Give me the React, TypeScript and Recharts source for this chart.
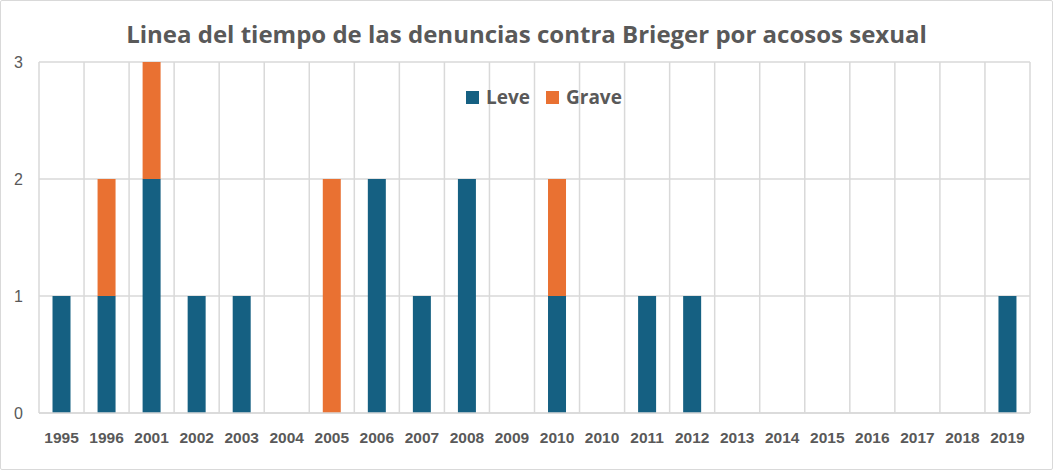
import React from "react";
import { BarChart, Bar, XAxis, YAxis, CartesianGrid, Legend } from "recharts";

const years = ["1995","1996","2001","2002","2003","2004","2005","2006","2007","2008","2009","2010","2010","2011","2012","2013","2014","2015","2016","2017","2018","2019"];
const leve = [1,1,2,1,1,0,0,2,1,2,0,1,0,1,1,0,0,0,0,0,0,1];
const grave = [0,1,1,0,0,0,2,0,0,0,0,1,0,0,0,0,0,0,0,0,0,0];
const yTicks = [0,1,2,3];
const seriesOrder = ["Leve", "Grave"];

const data = years.map((y, i) => ({ idx: i, year: y, Leve: leve[i], Grave: grave[i] }));

const W = 1053;
const H = 470;

const renderLegend = (props: any) => {
  const payload = [...(props.payload || [])].sort(
    (a: any, b: any) => seriesOrder.indexOf(a.value) - seriesOrder.indexOf(b.value)
  );
  return (
    <div style={{ display: "flex", alignItems: "center" }}>
      {payload.map((p: any) => (
        <div key={p.value} style={{ display: "flex", alignItems: "center", marginRight: 16 }}>
          <div style={{ width: 13, height: 13, background: p.color, marginRight: 7 }} />
          <span style={{ color: "#595959", fontWeight: 700, fontSize: 19, fontFamily: "'Open Sans', sans-serif", lineHeight: "20px" }}>{p.value}</span>
        </div>
      ))}
    </div>
  );
};

export default function App() {
  return (
    <div style={{ position: "fixed", left: 0, top: 0, width: W, height: H, background: "#fff", fontFamily: "'Liberation Sans', Arial, sans-serif" }}>
      <div style={{ position: "absolute", left: 0, top: 0, width: W - 2, height: H - 2, border: "1px solid #d9d9d9", borderRadius: 2 }} />
      <div style={{ position: "absolute", top: 17, left: 0, width: W, textAlign: "center", fontSize: 24, fontWeight: 700, color: "#595959", fontFamily: "'Open Sans', sans-serif", letterSpacing: 0 }}>
        Linea del tiempo de las denuncias contra Brieger por acosos sexual
      </div>
      <BarChart width={W} height={H} data={data} margin={{ top: 62, right: 23, left: 0, bottom: 0 }} barCategoryGap="30%" style={{ position: "absolute", left: 0, top: 0 }}>
        <CartesianGrid
          stroke="#d9d9d9"
          strokeWidth={1.5}
          verticalCoordinatesGenerator={({ offset }: any) => {
            const n = years.length;
            const pts: number[] = [];
            for (let i = 0; i <= n; i++) pts.push(offset.left + (offset.width * i) / n);
            return pts;
          }}
        />
        <XAxis
          dataKey="idx"
          type="category"
          height={57}
          tickLine={false}
          tickSize={0}
          tickMargin={19}
          axisLine={{ stroke: "#d9d9d9", strokeWidth: 1.5 }}
          interval={0}
          tickFormatter={(v: any) => years[v]}
          tick={{ fill: "#595959", fontSize: 15.5, fontWeight: 700 }}
        />
        <YAxis
          width={39}
          domain={[0, 3]}
          ticks={yTicks}
          axisLine={false}
          tickLine={false}
          tickSize={0}
          tickMargin={16}
          tick={{ fill: "#595959", fontSize: 16 }}
        />
        <Legend
          layout="horizontal"
          verticalAlign="middle"
          align="center"
          content={renderLegend}
          wrapperStyle={{ top: 87, left: 466, width: 220 }}
        />
        <Bar dataKey="Leve" stackId="a" fill="#156082" isAnimationActive={false} />
        <Bar dataKey="Grave" stackId="a" fill="#E97132" isAnimationActive={false} />
      </BarChart>
    </div>
  );
}
